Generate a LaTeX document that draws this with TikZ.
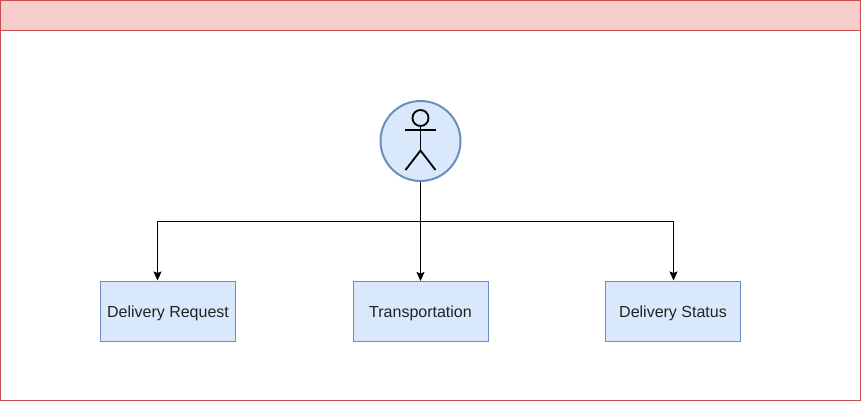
\documentclass[tikz,border=0pt]{standalone}
\usepackage{fontspec}
\setmainfont{Liberation Sans}
\usetikzlibrary{arrows.meta}
\definecolor{boxfill}{HTML}{DAE8FC}
\definecolor{boxline}{HTML}{6C8EBF}
\definecolor{headfill}{HTML}{F8CECC}
\definecolor{headline}{HTML}{C44F4E}
\definecolor{labelc}{HTML}{222222}
\tikzset{
  framebox/.style={draw=headline,line width=1pt,inner sep=0pt,outer sep=0pt},
  usecase/.style={draw=boxline,fill=boxfill,line width=1pt,minimum width=135pt,minimum height=60.5pt,inner sep=0pt,outer sep=0pt,text=labelc,font=\fontsize{16}{19}\selectfont,text depth=-1pt},
  actorcircle/.style={draw=boxline,fill=boxfill,line width=2pt,circle,minimum size=80pt,inner sep=0pt,outer sep=1pt},
  link/.style={draw=black,line width=1pt,-{Stealth[length=9pt,width=8pt,inset=1.5pt]}},
  figure/.style={draw=black,line width=1.8pt}
}
\begin{document}
\begin{tikzpicture}[x=1pt,y=-1pt]
\useasboundingbox (0,0) rectangle (861,401);
\fill[white] (0,0) rectangle (861,401);
\draw[framebox] (0.5,0.5) rectangle (860.5,400.5);
\draw[framebox,fill=headfill] (0.5,0.5) rectangle (860.5,30.5);
\node[actorcircle] (actor) at (420.5,141) {};
\node[usecase] (req) at (168,311.25) {Delivery Request};
\node[usecase] (trans) at (420.5,311.25) {Transportation};
\node[usecase] (stat) at (673,311.25) {Delivery Status};
\coordinate (split) at (420.5,221.5);
\coordinate (reqin) at (157.5,280.5);
\coordinate (statin) at (673.5,280.5);
\draw[link] (actor.south) -- (split) -| (reqin);
\draw[link] (actor.south) -- (trans.north -| actor.south);
\draw[link] (split) -| (statin);
\draw[figure] (420.5,118) circle (8);
\draw[figure] (420.5,126) -- (420.5,150.5);
\draw[figure] (405,130) -- (435.5,130);
\draw[figure] (405.5,170) -- (420.5,150.5) -- (435.5,170);
\end{tikzpicture}
\end{document}
